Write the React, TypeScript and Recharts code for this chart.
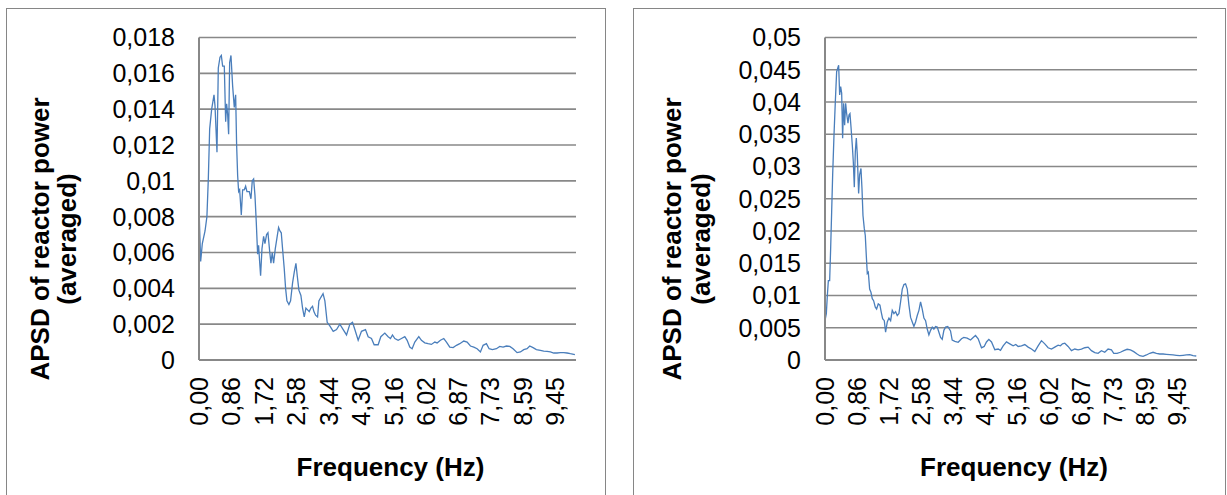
import { LineChart, Line, XAxis, YAxis, CartesianGrid, Label } from "recharts";

// frequency tick labels (Hz)
const freqTicks = [0, 0.86, 1.72, 2.58, 3.44, 4.3, 5.16, 6.02, 6.87, 7.73, 8.59, 9.45];
const leftYTicks = [0, 0.002, 0.004, 0.006, 0.008, 0.01, 0.012, 0.014, 0.016, 0.018];
const rightYTicks = [0, 0.005, 0.01, 0.015, 0.02, 0.025, 0.03, 0.035, 0.04, 0.045, 0.05];

// left panel
const leftFreq = [
  0, 0.044, 0.088, 0.16, 0.21, 0.247, 0.283, 0.336, 0.398, 0.424, 0.477, 0.512, 0.557, 0.592, 0.627, 0.671,
  0.707, 0.733, 0.76, 0.786, 0.813, 0.848, 0.892, 0.936, 0.972, 0.998, 1.025, 1.051, 1.078, 1.122, 1.157,
  1.201, 1.237, 1.272, 1.334, 1.378, 1.413, 1.449, 1.484, 1.519, 1.555, 1.581, 1.608, 1.634, 1.67, 1.714,
  1.749, 1.793, 1.829, 1.873, 1.908, 1.943, 1.979, 2.023, 2.067, 2.111, 2.147, 2.182, 2.217, 2.261, 2.297,
  2.332, 2.385, 2.429, 2.482, 2.527, 2.571, 2.606, 2.65, 2.703, 2.747, 2.792, 2.836, 2.88, 2.924, 2.968,
  3.012, 3.048, 3.092, 3.145, 3.18, 3.233, 3.29, 3.339, 3.4, 3.47, 3.56, 3.648, 3.736, 3.825, 3.913, 4.002,
  4.072, 4.134, 4.222, 4.31, 4.416, 4.487, 4.575, 4.646, 4.752, 4.823, 4.929, 5.017, 5.079, 5.132, 5.194,
  5.282, 5.37, 5.459, 5.521, 5.591, 5.653, 5.724, 5.83, 5.9, 5.989, 6.077, 6.165, 6.254, 6.316, 6.404, 6.493,
  6.564, 6.652, 6.741, 6.829, 6.917, 7.023, 7.112, 7.2, 7.289, 7.377, 7.465, 7.536, 7.624, 7.695, 7.783,
  7.889, 7.978, 8.066, 8.155, 8.243, 8.331, 8.437, 8.525, 8.614, 8.702, 8.773, 8.861, 8.949, 9.056, 9.144,
  9.233, 9.321, 9.409, 9.498, 9.586, 9.674, 9.763, 9.851, 9.94, 9.97,
];
const leftApsd = [
  0.0085, 0.0055, 0.0065, 0.0072, 0.008, 0.0101, 0.0129, 0.014, 0.0148, 0.0142, 0.0116, 0.0163, 0.0169, 0.017,
  0.0164, 0.0164, 0.0133, 0.0143, 0.0137, 0.0126, 0.0166, 0.017, 0.0153, 0.0141, 0.0148, 0.012, 0.0103,
  0.0094, 0.0095, 0.0081, 0.0095, 0.0095, 0.0097, 0.0094, 0.0094, 0.009, 0.01, 0.0101, 0.0092, 0.0077,
  0.0059, 0.0064, 0.0055, 0.0047, 0.0062, 0.0069, 0.0065, 0.007, 0.0071, 0.0061, 0.0054, 0.006, 0.0054,
  0.0062, 0.0068, 0.0074, 0.0072, 0.0071, 0.0062, 0.0051, 0.004, 0.0033, 0.0031, 0.0033, 0.0043, 0.0049,
  0.0054, 0.0047, 0.0039, 0.0036, 0.0029, 0.0024, 0.0029, 0.0028, 0.0027, 0.0029, 0.003, 0.0027, 0.0025,
  0.0024, 0.0033, 0.0035, 0.0037, 0.0033, 0.0021, 0.0019, 0.0016, 0.0017, 0.002, 0.0017, 0.0014, 0.002,
  0.0021, 0.0017, 0.0011, 0.0016, 0.0017, 0.0013, 0.0012, 0.00085, 0.00085, 0.0013, 0.0015, 0.0013, 0.0012,
  0.0014, 0.0012, 0.0011, 0.0012, 0.0013, 0.0011, 0.00072, 0.00063, 0.001, 0.0013, 0.0011, 0.00096,
  0.00091, 0.00087, 0.001, 0.00095, 0.0011, 0.0012, 0.001, 0.00072, 0.00069, 0.00082, 0.00091, 0.00106,
  0.001, 0.00078, 0.00072, 0.00063, 0.00045, 0.00082, 0.00091, 0.00063, 0.00058, 0.00063, 0.00076,
  0.00072, 0.00078, 0.00076, 0.00063, 0.00041, 0.00045, 0.00058, 0.00063, 0.00078, 0.00069, 0.00058,
  0.00054, 0.0005, 0.00048, 0.00045, 0.00039, 0.00039, 0.00041, 0.00041, 0.00039, 0.00035, 0.00032, 0.0003,
];

// right panel
const rightFreq = [
  0, 0.036, 0.063, 0.09, 0.125, 0.152, 0.179, 0.206, 0.242, 0.278, 0.313, 0.34, 0.367, 0.394, 0.421, 0.448,
  0.474, 0.501, 0.528, 0.555, 0.582, 0.618, 0.645, 0.671, 0.698, 0.734, 0.761, 0.788, 0.815, 0.842, 0.868,
  0.904, 0.931, 0.967, 0.994, 1.021, 1.056, 1.083, 1.11, 1.137, 1.164, 1.2, 1.235, 1.271, 1.307, 1.352,
  1.388, 1.432, 1.477, 1.513, 1.549, 1.594, 1.629, 1.674, 1.719, 1.764, 1.808, 1.853, 1.898, 1.943, 1.987,
  2.032, 2.077, 2.122, 2.166, 2.211, 2.256, 2.301, 2.346, 2.39, 2.435, 2.48, 2.525, 2.569, 2.614, 2.659,
  2.704, 2.748, 2.793, 2.838, 2.883, 2.927, 2.972, 3.017, 3.062, 3.107, 3.151, 3.196, 3.241, 3.3, 3.374,
  3.419, 3.491, 3.58, 3.67, 3.732, 3.822, 3.912, 3.983, 4.046, 4.118, 4.207, 4.279, 4.341, 4.404, 4.476,
  4.565, 4.655, 4.717, 4.789, 4.878, 4.968, 5.057, 5.129, 5.192, 5.281, 5.371, 5.461, 5.55, 5.64, 5.729,
  5.819, 5.908, 5.998, 6.088, 6.177, 6.267, 6.329, 6.383, 6.446, 6.535, 6.625, 6.714, 6.804, 6.893, 6.983,
  7.073, 7.162, 7.252, 7.341, 7.431, 7.52, 7.61, 7.7, 7.762, 7.852, 7.941, 8.031, 8.121, 8.21, 8.3, 8.389,
  8.461, 8.55, 8.64, 8.73, 8.819, 8.909, 8.998, 9.088, 9.177, 9.267, 9.356, 9.446, 9.536, 9.625, 9.715,
  9.804, 9.894, 9.98,
];
const rightApsd = [
  0.0061, 0.0072, 0.01, 0.0123, 0.0123, 0.0173, 0.023, 0.0287, 0.0349, 0.0401, 0.0447, 0.0452, 0.0457,
  0.0411, 0.0424, 0.0414, 0.0344, 0.0398, 0.0364, 0.0398, 0.0382, 0.0367, 0.038, 0.0382, 0.0362, 0.0333,
  0.0307, 0.0268, 0.0323, 0.0344, 0.0318, 0.0258, 0.0287, 0.0297, 0.0266, 0.0224, 0.0204, 0.0193, 0.0162,
  0.0134, 0.0136, 0.011, 0.0105, 0.0095, 0.0092, 0.0082, 0.0079, 0.0087, 0.0085, 0.0074, 0.0064, 0.0061,
  0.0043, 0.0059, 0.0065, 0.0061, 0.0077, 0.0072, 0.0075, 0.0069, 0.0072, 0.009, 0.011, 0.0117, 0.0118,
  0.011, 0.0085, 0.0066, 0.0059, 0.0052, 0.0059, 0.0069, 0.0077, 0.009, 0.0079, 0.0065, 0.0061, 0.0048,
  0.0039, 0.0046, 0.0051, 0.0048, 0.0052, 0.0051, 0.0043, 0.0035, 0.0032, 0.0046, 0.0051, 0.0052, 0.0045,
  0.0031, 0.0029, 0.00275, 0.0033, 0.0035, 0.0034, 0.0031, 0.0035, 0.0038, 0.0033, 0.0019, 0.0021, 0.0028,
  0.0032, 0.0028, 0.0016, 0.0017, 0.0015, 0.0022, 0.0028, 0.0025, 0.0022, 0.0024, 0.0021, 0.0022, 0.0024,
  0.002, 0.0017, 0.0013, 0.0022, 0.003, 0.0025, 0.0019, 0.0017, 0.002, 0.0023, 0.0022, 0.0025, 0.0026,
  0.0021, 0.00145, 0.0017, 0.00156, 0.0017, 0.0019, 0.002, 0.00145, 0.00114, 0.00104, 0.00145, 0.0012,
  0.0017, 0.00156, 0.00104, 0.00104, 0.0012, 0.00145, 0.00166, 0.00156, 0.0013, 0.00093, 0.00067, 0.00057,
  0.00078, 0.00104, 0.0012, 0.00104, 0.00093, 0.00093, 0.00088, 0.00083, 0.00078, 0.00073, 0.00067,
  0.00073, 0.00078, 0.00083, 0.00067, 0.00062,
];

const FONT = '"Liberation Sans", Arial, sans-serif';
const GRID = "#888888";

const fmtY = (v: number) => (v === 0 ? "0" : String(+v.toFixed(3)).replace(".", ","));
const fmtX = (v: number) => v.toFixed(2).replace(".", ",");

function XTick(props: any) {
  const { x, y, payload } = props;
  return (
    <text
      x={x}
      y={y}
      transform={`rotate(-90, ${x}, ${y})`}
      textAnchor="end"
      dominantBaseline="central"
      fontSize={25}
      fill="#000"
    >
      {fmtX(payload.value)}
    </text>
  );
}

interface PanelProps {
  left: number;
  width: number;
  freq: number[];
  apsd: number[];
  yTicks: number[];
  yMax: number;
  yAxisWidth: number;
  rightMargin: number;
  title1X: number;
  title2X: number;
}

function Panel({ left, width, freq, apsd, yTicks, yMax, yAxisWidth, rightMargin, title1X, title2X }: PanelProps) {
  const data = freq.map((f, i) => ({ f, v: apsd[i] }));
  const chartW = width - 2;
  const chartH = 487;
  const plotCenterX = yAxisWidth + (chartW - yAxisWidth - rightMargin) / 2;
  return (
    <div
      style={{
        position: "absolute",
        left,
        top: 8,
        width,
        height: 500,
        boxSizing: "border-box",
        border: "1px solid #868686",
        background: "#fff",
      }}
    >
      <LineChart width={chartW} height={chartH} data={data} margin={{ top: 28.5, right: rightMargin, left: 0, bottom: 0 }}>
        <CartesianGrid vertical={false} stroke={GRID} strokeWidth={1.6} />
        <XAxis
          dataKey="f"
          type="number"
          domain={[0, 10]}
          ticks={freqTicks}
          interval={0}
          height={136}
          tickSize={0}
          tickMargin={17}
          tickLine={false}
          axisLine={{ stroke: GRID, strokeWidth: 2 }}
          tick={<XTick />}
        >
          <Label
            content={() => (
              <text
                x={plotCenterX + 3}
                y={458}
                textAnchor="middle"
                dominantBaseline="central"
                fontWeight="bold"
                fontSize={26}
                fill="#000"
              >
                Frequency (Hz)
              </text>
            )}
          />
        </XAxis>
        <YAxis
          type="number"
          domain={[0, yMax]}
          ticks={yTicks}
          interval={0}
          width={yAxisWidth}
          tickSize={0}
          tickMargin={24}
          tickLine={false}
          axisLine={{ stroke: GRID, strokeWidth: 2 }}
          tick={{ fill: "#000", fontSize: 25 }}
          tickFormatter={fmtY}
        >
          <Label
            content={() => (
              <g fontWeight="bold" fontSize={26} fill="#000">
                <text x={title1X} y={230} transform={`rotate(-90, ${title1X}, 230)`} textAnchor="middle" dominantBaseline="central">
                  APSD of reactor power
                </text>
                <text x={title2X} y={230} transform={`rotate(-90, ${title2X}, 230)`} textAnchor="middle" dominantBaseline="central">
                  (averaged)
                </text>
              </g>
            )}
          />
        </YAxis>
        <Line type="linear" dataKey="v" stroke="#4a7ebb" strokeWidth={1.3} dot={false} isAnimationActive={false} />
      </LineChart>
    </div>
  );
}

export default function App() {
  return (
    <div style={{ position: "absolute", left: 0, top: 0, width: 1227, height: 495, overflow: "hidden", background: "#fff", fontFamily: FONT }}>
      <Panel
        left={6}
        width={600}
        freq={leftFreq}
        apsd={leftApsd}
        yTicks={leftYTicks}
        yMax={0.018}
        yAxisWidth={192}
        rightMargin={29}
        title1X={33}
        title2X={60}
      />
      <Panel
        left={633}
        width={593}
        freq={rightFreq}
        apsd={rightApsd}
        yTicks={rightYTicks}
        yMax={0.05}
        yAxisWidth={191}
        rightMargin={28}
        title1X={38}
        title2X={67}
      />
    </div>
  );
}
